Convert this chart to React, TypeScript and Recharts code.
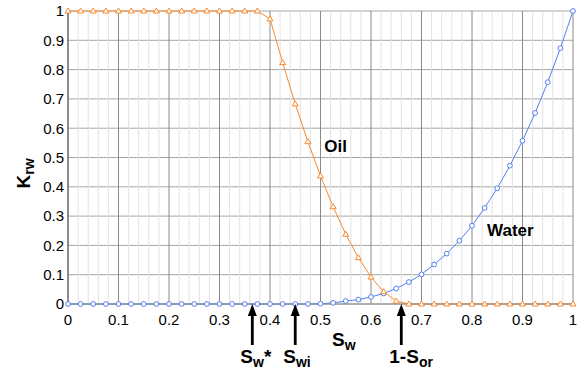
import React from "react";
import {
  LineChart,
  Line,
  XAxis,
  YAxis,
  CartesianGrid,
  ReferenceLine,
  ReferenceDot,
} from "recharts";

// water saturation, every 0.025
const sw = [
  0, 0.025, 0.05, 0.075, 0.1, 0.125, 0.15, 0.175, 0.2, 0.225, 0.25, 0.275,
  0.3, 0.325, 0.35, 0.375, 0.4, 0.425, 0.45, 0.475, 0.5, 0.525, 0.55, 0.575,
  0.6, 0.625, 0.65, 0.675, 0.7, 0.725, 0.75, 0.775, 0.8, 0.825, 0.85, 0.875,
  0.9, 0.925, 0.95, 0.975, 1,
];

const oil = [
  1, 1, 1, 1, 1, 1, 1, 1, 1, 1, 1, 1, 1, 1, 1, 1, 0.973, 0.824, 0.683, 0.554,
  0.437, 0.332, 0.238, 0.158, 0.092, 0.042, 0.01, 0, 0, 0, 0, 0, 0, 0, 0, 0, 0,
  0, 0, 0, 0,
];

const water = [
  0, 0, 0, 0, 0, 0, 0, 0, 0, 0, 0, 0, 0, 0, 0, 0, 0, 0, 0, 0, 0.001, 0.004,
  0.01, 0.015, 0.024, 0.036, 0.053, 0.075, 0.101, 0.135, 0.172, 0.216, 0.267,
  0.328, 0.395, 0.472, 0.557, 0.652, 0.757, 0.873, 1,
];

const xTicks = [0, 0.1, 0.2, 0.3, 0.4, 0.5, 0.6, 0.7, 0.8, 0.9, 1];
const yTicks = [0, 0.1, 0.2, 0.3, 0.4, 0.5, 0.6, 0.7, 0.8, 0.9, 1];

// minor grid / ticks every 0.02
const minorX = Array.from({ length: 51 }, (_, i) => i / 50).filter(
  (_, i) => i % 5 !== 0
);
const minorY = Array.from({ length: 51 }, (_, i) => i / 50);

const markers = [
  { x: 0.365, main: "S", sub: "w", sup: "*" },
  { x: 0.45, main: "S", sub: "wi", sup: "" },
  { x: 0.66, main: "1-S", sub: "or", sup: "" },
];

const curveLabels = [
  { text: "Oil", x: 0.53, y: 0.54 },
  { text: "Water", x: 0.876, y: 0.253 },
];

const data = sw.map((s, i) => ({ sw: s, oil: oil[i], water: water[i] }));

const OIL = "#f98a2f";
const WATER = "#5580f2";
const FONT = "'Liberation Sans', Arial, sans-serif";

const Triangle = (props: any) => {
  const { cx, cy } = props;
  return (
    <polygon
      points={`${cx},${cy - 3} ${cx - 3},${cy + 2} ${cx + 3},${cy + 2}`}
      fill="#fff"
      stroke={OIL}
      strokeWidth={1}
    />
  );
};

const Circle = (props: any) => {
  const { cx, cy } = props;
  return <circle cx={cx} cy={cy} r={2.4} fill="#fff" stroke={WATER} strokeWidth={1} />;
};

const arrowShape = (m: (typeof markers)[number]) => (props: any) => {
  const { cx, cy } = props;
  return (
    <g>
      <rect x={cx - 1.4} y={cy + 10} width={2.8} height={31} fill="#000" />
      <polygon
        points={`${cx},${cy} ${cx - 4.5},${cy + 12} ${cx + 4.5},${cy + 12}`}
        fill="#000"
      />
      <text x={cx - 12} y={cy + 59} fontSize={19} fontWeight="bold" fontFamily={FONT} fill="#000">
        {m.main}
        <tspan dy={4} fontSize={14}>
          {m.sub}
        </tspan>
        {m.sup ? <tspan dy={-4}>{m.sup}</tspan> : null}
      </text>
    </g>
  );
};

const textShape = (t: string) => (props: any) => (
  <text
    x={props.cx}
    y={props.cy}
    dy="0.35em"
    textAnchor="middle"
    fontSize={17}
    fontWeight="bold"
    fontFamily={FONT}
    fill="#000"
  >
    {t}
  </text>
);

const YLabel = (props: any) => {
  const { viewBox } = props;
  const x = viewBox.x + 30;
  const y = viewBox.y + viewBox.height / 2 + 16;
  return (
    <text
      x={x}
      y={y}
      transform={`rotate(-90, ${x}, ${y})`}
      textAnchor="middle"
      fontSize={19}
      fontWeight="bold"
      fontFamily={FONT}
      fill="#000"
    >
      K
      <tspan dy={4} fontSize={14}>
        rw
      </tspan>
    </text>
  );
};

const XLabel = (props: any) => {
  const { viewBox } = props;
  return (
    <text
      x={viewBox.x + 264}
      y={viewBox.y + 42}
      fontSize={19}
      fontWeight="bold"
      fontFamily={FONT}
      fill="#000"
    >
      S
      <tspan dy={4} fontSize={14}>
        w
      </tspan>
    </text>
  );
};

export default function App() {
  return (
    <div style={{ position: "absolute", left: 0, top: 0, background: "#fff" }}>
      <LineChart
        width={579}
        height={373}
        data={data}
        margin={{ top: 11, right: 6, bottom: 0, left: 0 }}
        style={{ fontFamily: FONT }}
      >
        {minorX.map((v) => (
          <ReferenceLine key={`mx-${v}`} x={v} stroke="#e2e2e2" strokeWidth={1} />
        ))}
        <CartesianGrid vertical={false} stroke="#a6a6a6" strokeWidth={1} />
        {xTicks.map((v) => (
          <ReferenceLine key={`x-${v}`} x={v} stroke="#8a8a8a" strokeWidth={1} />
        ))}
        <YAxis
          yAxisId="minor"
          type="number"
          domain={[0, 1]}
          ticks={minorY}
          width={0}
          axisLine={false}
          tickSize={3}
          tickFormatter={() => ""}
          tickLine={{ stroke: "#555" }}
        />
        <XAxis
          dataKey="sw"
          type="number"
          domain={[0, 1]}
          ticks={xTicks}
          height={69}
          tickLine={false}
          tickSize={0}
          tickMargin={10}
          axisLine={{ stroke: "#888" }}
          tick={{ fontSize: 15, fill: "#000" }}
          label={<XLabel />}
        />
        <YAxis
          type="number"
          domain={[0, 1]}
          ticks={yTicks}
          width={68}
          tickLine={false}
          tickSize={0}
          tickMargin={4}
          axisLine={{ stroke: "#555" }}
          tick={{ fontSize: 15, fill: "#000" }}
          label={<YLabel />}
        />
        <Line
          dataKey="water"
          stroke={WATER}
          strokeWidth={1}
          dot={<Circle />}
          isAnimationActive={false}
        />
        <Line
          dataKey="oil"
          stroke={OIL}
          strokeWidth={1}
          dot={<Triangle />}
          isAnimationActive={false}
        />
        {curveLabels.map((c) => (
          <ReferenceDot
            key={c.text}
            x={c.x}
            y={c.y}
            ifOverflow="visible"
            shape={textShape(c.text)}
          />
        ))}
        {markers.map((m) => (
          <ReferenceDot
            key={m.main + m.sub}
            x={m.x}
            y={0}
            ifOverflow="visible"
            shape={arrowShape(m)}
          />
        ))}
      </LineChart>
    </div>
  );
}
